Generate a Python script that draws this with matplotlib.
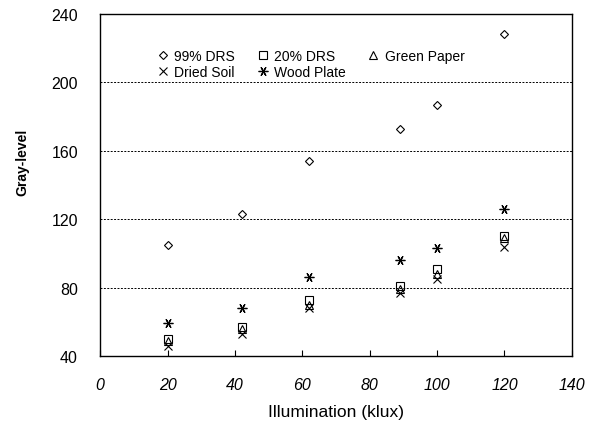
import matplotlib.pyplot as plt

# illumination (klux)
illum = [20, 42, 62, 89, 100, 120]

# gray-level readings
drs99 = [105, 123, 154, 173, 187, 228]
drs20 = [50, 57, 73, 81, 91, 110]
green_paper = [49, 56, 70, 79, 88, 109]
dried_soil = [46, 53, 68, 77, 85, 104]
wood_plate = [59, 68, 86, 96, 103, 126]

xticks = [0, 20, 40, 60, 80, 100, 120, 140]
yticks = [40, 80, 120, 160, 200, 240]

plt.rcParams['font.family'] = ['Liberation Sans', 'DejaVu Sans']

fig = plt.figure(figsize=(6.07, 4.27), dpi=100)
ax = fig.add_axes([0.165, 0.164, 0.777, 0.801])

h1, = ax.plot(illum, drs99, 'D', ms=4, mfc='white', mec='black', mew=0.8, ls='none', label='99% DRS')
h2, = ax.plot(illum, drs20, 's', ms=5.5, mfc='none', mec='black', mew=0.8, ls='none', label='20% DRS')
h3, = ax.plot(illum, green_paper, '^', ms=5.5, mfc='none', mec='black', mew=0.8, ls='none', label='Green Paper')
h4, = ax.plot(illum, dried_soil, 'x', ms=6, color='black', mew=0.8, ls='none', label='Dried Soil')
h5, = ax.plot(illum, wood_plate, marker=(6, 2, 30), ms=7, color='black', mew=0.9, ls='none', label='Wood Plate')

ax.set_xlim(0, 140)
ax.set_ylim(40, 240)
ax.set_xticks(xticks)
ax.set_yticks(yticks)
ax.tick_params(axis='x', direction='in', length=4, width=0.8, pad=15, labelsize=11.5)
ax.tick_params(axis='y', length=0, pad=16, labelsize=11.5)
for lab in ax.get_xticklabels():
    lab.set_fontstyle('italic')

for y in [80, 120, 160, 200]:
    ax.axhline(y, color='black', lw=0.7, ls=(0, (2, 1.5)))

for s in ax.spines.values():
    s.set_linewidth(1.0)

ax.set_xlabel('Illumination (klux)', fontsize=12.5, labelpad=9)
ax.set_ylabel('Gray-level', fontsize=10, fontweight='bold')
ax.yaxis.set_label_coords(-0.15, 0.57)

# row-wise legend: 3 columns, filled column by column
handles = [h1, h4, h2, h5, h3]
ax.legend(handles=handles, labels=[h.get_label() for h in handles], ncol=3,
          loc='upper left', bbox_to_anchor=(0.11, 0.915), frameon=False,
          fontsize=10, handlelength=0.8, handletextpad=0.4, columnspacing=1.6,
          labelspacing=0.2, borderaxespad=0)

fig.savefig('out.png', dpi=100)
